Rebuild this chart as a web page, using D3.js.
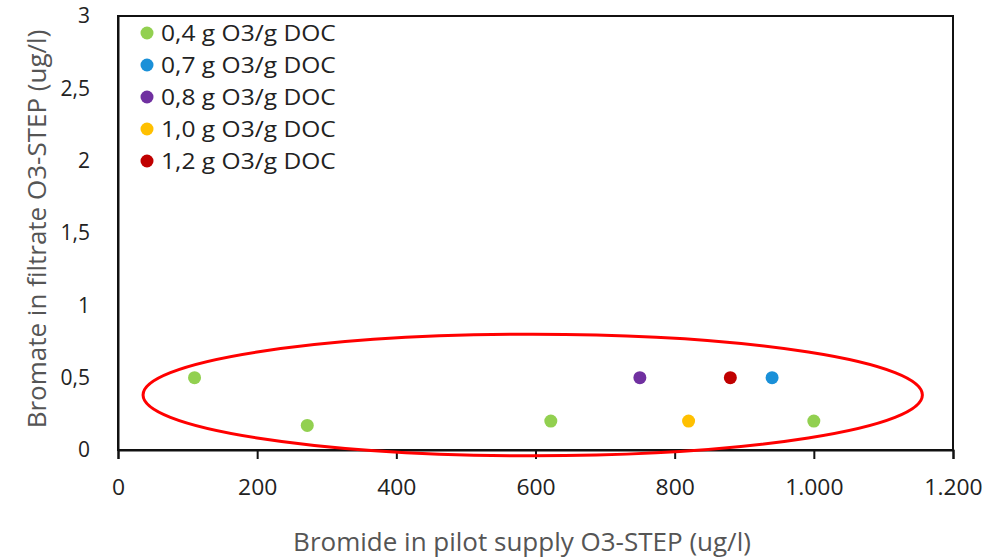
<!DOCTYPE html>
<html><head><meta charset="utf-8">
<script src="https://cdn.jsdelivr.net/npm/d3@7"></script>
<style>body{margin:0;background:#fff}svg{display:block}text{font-family:"Open Sans","Noto Sans",sans-serif}</style>
</head><body><svg id="c" width="1007" height="559"></svg>
<script>
const seriesNames = ["0,4 g O3/g DOC","0,7 g O3/g DOC","0,8 g O3/g DOC","1,0 g O3/g DOC","1,2 g O3/g DOC"];
const seriesColors = ["#92d050","#1a90d8","#7030a0","#ffc000","#c00000"];
const bromideX = [[110,272,622,1000],[940],[750],[820],[880]];
const bromateY = [[0.5,0.17,0.2,0.2],[0.5],[0.5],[0.2],[0.5]];
const xTicks = [0,200,400,600,800,1000,1200];
const xTickLabels = ["0","200","400","600","800","1.000","1.200"];
const yTicks = [0,0.5,1,1.5,2,2.5,3];
const yTickLabels = ["0","0,5","1","1,5","2","2,5","3"];
const ellipse = {cx:596, cy:0.38, rx:560, ry:0.42};

const svg = d3.select("#c");
const L=118,R=953,T=16,B=450;
const x = d3.scaleLinear().domain([0,1200]).range([L,R]);
const y = d3.scaleLinear().domain([0,3]).range([B,T]);

// frame
svg.append("rect").attr("x",L).attr("y",T).attr("width",R-L).attr("height",B-T)
  .attr("fill","none").attr("stroke","#111").attr("stroke-width",2);

// x axis
const xa = svg.append("g").attr("transform",`translate(0,${B})`)
  .call(d3.axisBottom(x).tickValues(xTicks).tickFormat((d,i)=>xTickLabels[i]).tickSize(9).tickPadding(21));
xa.select(".domain").attr("stroke","#111").attr("stroke-width",2);
xa.selectAll(".tick line").attr("stroke","#111").attr("stroke-width",2);
xa.selectAll(".tick text").attr("font-size",21).attr("fill","#222").attr("transform","scale(1.09,1)");

// y axis
const ya = svg.append("g").attr("transform",`translate(${L},0)`)
  .call(d3.axisLeft(y).tickValues(yTicks).tickFormat((d,i)=>yTickLabels[i]).tickSize(0).tickPadding(28));
ya.select(".domain").attr("stroke","#111").attr("stroke-width",2);
ya.selectAll(".tick text").attr("font-size",21).attr("fill","#222");

// titles
svg.append("text").attr("x",522).attr("y",551).attr("text-anchor","middle")
  .attr("font-size",26).attr("fill","#555").text("Bromide in pilot supply O3-STEP (ug/l)");
svg.append("text").attr("transform","translate(46,229) rotate(-90)").attr("text-anchor","middle")
  .attr("font-size",26).attr("fill","#555").text("Bromate in filtrate O3-STEP (ug/l)");

// points
seriesNames.forEach((n,s)=>{
  svg.append("g").selectAll("circle").data(bromideX[s].map((v,i)=>[v,bromateY[s][i]]))
    .join("circle").attr("cx",d=>x(d[0])).attr("cy",d=>y(d[1])).attr("r",6.5).attr("fill",seriesColors[s]);
});

// ellipse annotation
svg.append("ellipse").attr("cx",x(ellipse.cx)).attr("cy",y(ellipse.cy))
  .attr("rx",x(ellipse.rx)-x(0)).attr("ry",y(0)-y(ellipse.ry))
  .attr("fill","none").attr("stroke","#ff0000").attr("stroke-width",3);

// legend
const lg = svg.append("g");
seriesNames.forEach((n,i)=>{
  const yy = 33 + i*32;
  lg.append("circle").attr("cx",147).attr("cy",yy).attr("r",6.5).attr("fill",seriesColors[i]);
  lg.append("text").attr("transform",`translate(161,${yy}) scale(1.17,1)`).attr("dy","0.36em")
    .attr("font-size",21).attr("fill","#222").text(n);
});
</script></body></html>
